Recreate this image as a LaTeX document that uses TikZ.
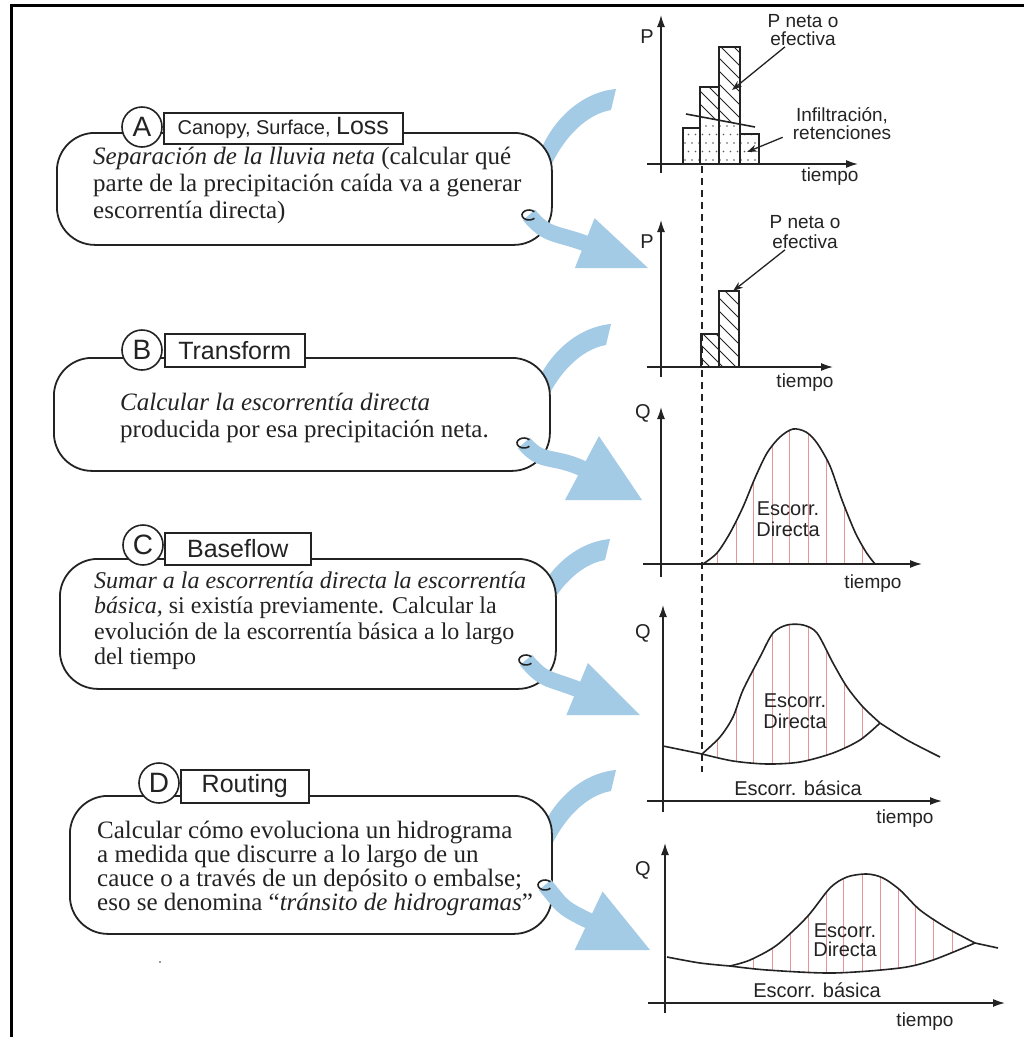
\documentclass[tikz,border=0pt]{standalone}
\usepackage{fontspec}
\setmainfont{Liberation Serif}
\newfontfamily\arialf{Liberation Sans}
\usetikzlibrary{arrows.meta,calc}
\definecolor{flowblue}{RGB}{163,203,230}
\definecolor{ink}{RGB}{35,35,35}
\definecolor{hatchred}{RGB}{228,150,150}

\newcommand\upperarc[2]{%
  \fill[flowblue] (#1+4,#2-11) .. controls (#1-30,#2-8) and (#1-62,#2+20) .. (#1-75,#2+60)
    -- (#1-64,#2+72) .. controls (#1-48,#2+35) and (#1-24,#2+14) .. (#1-1,#2+10) -- cycle;}

\newcommand\flowarrow[6]{%
  \coordinate (#1c) at (#2,#3);
  \coordinate (#1t) at (#4,#5);
  \fill[flowblue] (#1t) -- ($(#1t)+(180:{68/cos(#6)})$) -- ($(#1t)+({180+2*#6}:{68/cos(#6)})$) -- cycle;
  \draw[flowblue, line width=16pt] (#1c) .. controls ($(#1c)+(50:30)$) and ($(#1t)+({180+#6}:100)$) .. ($(#1t)+({180+#6}:60)$);
  \draw[ink, line width=1.6pt] ($(#1c)+(5.36,-3.21)$) arc[start angle=-40, end angle=-320, x radius=7, y radius=5];
}

\begin{document}
\begin{tikzpicture}[x=1pt,y=-1pt,
  stepbox/.style={draw=ink, fill=white, line width=1.8pt, rounded corners=38pt, inner sep=0pt, anchor=north west},
  letter/.style={circle, draw=ink, fill=white, line width=1.6pt, minimum size=40pt, inner sep=0pt, font=\arialf\fontsize{28}{28}\selectfont, text=ink},
  steplabel/.style={draw=ink, fill=white, line width=1.6pt, inner sep=0pt, anchor=north west, minimum height=33pt, font=\arialf\fontsize{25}{25}\selectfont, text=ink},
  bodytext/.style={anchor=base west, inner sep=0pt, font=\fontsize{25}{27}\selectfont, text=ink},
  axisline/.style={draw=ink, line width=1.5pt, -{Latex[length=12pt,width=8pt]}},
  chartline/.style={draw=ink, line width=1.6pt},
  charttext/.style={inner sep=0pt, font=\arialf\fontsize{19}{18}\selectfont, text=ink, align=center},
  flowtext/.style={inner sep=0pt, font=\arialf\fontsize{20}{21}\selectfont, text=ink, align=center},
  pointer/.style={draw=ink, line width=1.3pt, -{Stealth[length=10pt,width=7pt]}},
  hatchline/.style={draw=hatchred, line width=0.8pt},
]
\useasboundingbox (0,0) rectangle (1024,1037);
\fill[white] (0,0) rectangle (1024,1037);
% frame
\draw[black, line width=3pt] (11,1037) -- (11,5) -- (1024,5);

% upper blue arcs (behind the boxes)
\upperarc{612}{100}
\upperarc{607}{335}
\upperarc{606}{550}
\upperarc{612}{781}

% boxes
\node[stepbox, minimum width=495pt, minimum height=112pt] (boxA) at (56,132) {};
\node[stepbox, minimum width=496pt, minimum height=113pt] (boxB) at (53,357) {};
\node[stepbox, minimum width=496pt, minimum height=130pt] (boxC) at (59,558) {};
\node[stepbox, minimum width=482pt, minimum height=138pt] (boxD) at (69,795) {};

% labels
\node[steplabel, minimum width=239pt, minimum height=31pt, font=\arialf\fontsize{20}{20}\selectfont] (labA) at (163,112) {Canopy, Surface, {\fontsize{25}{25}\selectfont Loss}};
\node[steplabel, minimum width=140pt] (labB) at (164,333) {Transform};
\node[steplabel, minimum width=146pt, minimum height=32pt] (labC) at (164,532) {Baseflow};
\node[steplabel, minimum width=128pt] (labD) at (180,769) {Routing};
\node[letter] (cA) at (142,127) {A};
\node[letter] (cB) at (142,350) {B};
\node[letter] (cC) at (143,545) {C};
\node[letter] (cD) at (159,783) {D};

% body texts
\node[bodytext] (tA1) at (93,164) {\textit{Separación de la lluvia neta} (calcular qué};
\node[bodytext] (tA2) at (93,191) {parte de la precipitación caída va a generar};
\node[bodytext] (tA3) at (93,218) {escorrentía directa)};

\node[bodytext] (tB1) at (120,410) {\textit{Calcular la escorrentía directa}};
\node[bodytext] (tB2) at (120,437) {producida por esa precipitación neta.};

\node[bodytext, font=\fontsize{24}{26}\selectfont] (tC1) at (94,588) {\textit{Sumar a la escorrentía directa la escorrentía}};
\node[bodytext, font=\fontsize{24}{26}\selectfont] (tC2) at (94,613.5) {\textit{básica,} si existía previamente. Calcular la};
\node[bodytext, font=\fontsize{24}{26}\selectfont] (tC3) at (94,639) {evolución de la escorrentía básica a lo largo};
\node[bodytext, font=\fontsize{24}{26}\selectfont] (tC4) at (94,664.5) {del tiempo};

\node[bodytext] (tD1) at (97,838) {Calcular cómo evoluciona un hidrograma};
\node[bodytext] (tD2) at (97,862) {a medida que discurre a lo largo de un};
\node[bodytext] (tD3) at (97,886) {cauce o a través de un depósito o embalse;};
\node[bodytext] (tD4) at (97,910) {eso se denomina “\textit{tránsito de hidrogramas}”};
\fill[ink!60] (160,962) circle (1.2);

% lower blue arrows with curls
\flowarrow{fA}{529}{215}{648}{268}{21.5}
\flowarrow{fB}{524}{443}{642}{500}{28}
\flowarrow{fC}{526}{660}{640}{715}{22.5}
\flowarrow{fD}{545}{885}{650}{950}{25.5}

% dashed time line
\draw[ink, line width=1.4pt, dash pattern=on 7pt off 5pt] (702,166) -- (702,772);

% ---------- chart 1 ----------
\begin{scope}
\clip (683,164) rectangle (700,128) (740,164) rectangle (759,134)
      (700,164) -- (700,116.6) -- (719,120.2) -- (740,124.2) -- (740,164) -- cycle;
\foreach \yy in {0,...,6} \foreach \xx in {0,...,10}
  \fill[ink!75] ({685+\xx*7+mod(\yy,2)*3.5},{160-\yy*8.5}) circle (0.9);
\end{scope}
\begin{scope}
\clip (700,87) -- (719,87) -- (719,120.2) -- (700,116.6) -- cycle
      (719,47) -- (740,47) -- (740,124.2) -- (719,120.2) -- cycle;
\foreach \k in {-700,-687,...,-530} \draw[ink, line width=0.9pt] (680,680+\k) -- (780,780+\k);
\end{scope}
\draw[chartline, line width=1.4pt] (683,164) rectangle (700,128) (700,164) rectangle (719,87)
  (719,164) rectangle (740,47) (740,164) rectangle (759,134);
\draw[chartline] (686,114) -- (755,127);
\draw[axisline] (661,173) -- (661,15);
\draw[axisline] (647,164) -- (858,164);
\node[charttext, font=\arialf\fontsize{20}{20}\selectfont] (P1) at (647,37) {P};
\node[charttext] (t1) at (830,177) {tiempo};
\node[charttext] (pn1) at (803,30) {P neta o\\efectiva};
\coordinate (pn1tip) at (732,90);
\draw[pointer] ($(pn1.south)+(-18,1)$) -- (pn1tip);
\node[charttext] (inf1) at (842,124) {Infiltración,\\retenciones};
\coordinate (inf1tip) at (747,152);
\draw[pointer] ($(inf1.south west)+(-10,-3)$) -- (inf1tip);

% ---------- chart 2 ----------
\begin{scope}
\clip (701,367) -- (701,334) -- (719,334) -- (719,291) -- (739,291) -- (739,367) -- cycle;
\foreach \k in {-460,-447,...,-320} \draw[ink, line width=0.9pt] (680,680+\k) -- (780,780+\k);
\end{scope}
\draw[chartline, line width=1.4pt] (701,367) rectangle (719,334) (719,367) rectangle (739,291);
\draw[axisline] (661,377) -- (661,220);
\draw[axisline] (647,367) -- (833,367);
\node[charttext, font=\arialf\fontsize{20}{20}\selectfont] (P2) at (647,242) {P};
\node[charttext] (t2) at (805,383) {tiempo};
\node[charttext, font=\arialf\fontsize{19}{20}\selectfont] (pn2) at (805,232) {P neta o\\efectiva};
\coordinate (pn2tip) at (733,291);
\draw[pointer] ($(pn2.south)+(-20,1)$) -- (pn2tip);

% ---------- chart 3 ----------
\begin{scope}
\clip plot[smooth] coordinates {(703,564) (717,553) (730,533) (743,507) (755,478) (767,453) (780,437) (793,429) (806,432) (817,443) (830,466) (842,500) (855,532) (866,552) (875,564)} -- cycle;
\foreach \x in {717,736,753,772,789,808,826,844,862} \draw[hatchline] (\x,420) -- (\x,564);
\end{scope}
\draw[chartline] plot[smooth] coordinates {(703,564) (717,553) (730,533) (743,507) (755,478) (767,453) (780,437) (793,429) (806,432) (817,443) (830,466) (842,500) (855,532) (866,552) (875,564)};
\draw[axisline] (661,577) -- (661,407);
\draw[axisline] (643,564) -- (922,564);
\node[charttext, font=\arialf\fontsize{20}{20}\selectfont] (Q3) at (643,413) {Q};
\node[charttext] (t3) at (873,584) {tiempo};
\node[flowtext] (ed3) at (788,519) {Escorr.\\Directa};

% ---------- chart 4 ----------
\begin{scope}
\clip plot[smooth] coordinates {(702,754) (720,737) (733,717) (743,690) (760,657) (773,633) (787,625) (803,625) (817,633) (833,663) (847,687) (863,707) (880,723)}
  -- plot[smooth] coordinates {(880,723) (860,740) (833,753) (800,762) (767,764) (733,761) (702,754)} -- cycle;
\foreach \x in {717,736,753,772,789,808,826,844,862} \draw[hatchline] (\x,610) -- (\x,770);
\end{scope}
\draw[chartline] plot[smooth] coordinates {(702,754) (720,737) (733,717) (743,690) (760,657) (773,633) (787,625) (803,625) (817,633) (833,663) (847,687) (863,707) (880,723)};
\draw[chartline] plot[smooth] coordinates {(880,723) (907,740) (940,757)};
\draw[chartline] plot[smooth] coordinates {(880,723) (860,740) (833,753) (800,762) (767,764) (733,761) (702,754)};
\draw[chartline] (663,746) -- (702,754);
\draw[axisline] (663,812) -- (663,605);
\draw[axisline] (647,801) -- (942,801);
\node[charttext, font=\arialf\fontsize{20}{20}\selectfont] (Q4) at (643,633) {Q};
\node[charttext] (t4) at (905,819) {tiempo};
\node[flowtext] (ed4) at (795,711) {Escorr.\\Directa};
\node[flowtext] (eb4) at (798,788) {Escorr. básica};

% ---------- chart 5 ----------
\begin{scope}
\clip plot[smooth] coordinates {(730,966) (750,960) (777,945) (807,917) (830,888) (847,877) (867,874) (883,878) (900,890) (920,910) (947,928) (975,943)}
  -- plot[smooth] coordinates {(975,943) (933,960) (900,968) (833,973) (767,970) (730,966)} -- cycle;
\foreach \x in {753,772,790,808,826,843,862,880,898,915,933,952} \draw[hatchline] (\x,860) -- (\x,980);
\end{scope}
\draw[chartline] plot[smooth] coordinates {(730,966) (750,960) (777,945) (807,917) (830,888) (847,877) (867,874) (883,878) (900,890) (920,910) (947,928) (975,943)};
\draw[chartline] (975,943) -- (998,948);
\draw[chartline] plot[smooth] coordinates {(667,957) (700,963) (730,966)};
\draw[chartline] plot[smooth] coordinates {(730,966) (767,970) (833,973) (900,968) (933,960) (975,943)};
\draw[axisline] (665,1013) -- (665,843);
\draw[axisline] (648,1003) -- (1005,1003);
\node[charttext, font=\arialf\fontsize{20}{20}\selectfont] (Q5) at (643,870) {Q};
\node[charttext] (t5) at (925,1022) {tiempo};
\node[flowtext, font=\arialf\fontsize{20}{19}\selectfont] (ed5) at (845,940) {Escorr.\\Directa};
\node[flowtext] (eb5) at (817,990) {Escorr. básica};
\end{tikzpicture}
\end{document}
